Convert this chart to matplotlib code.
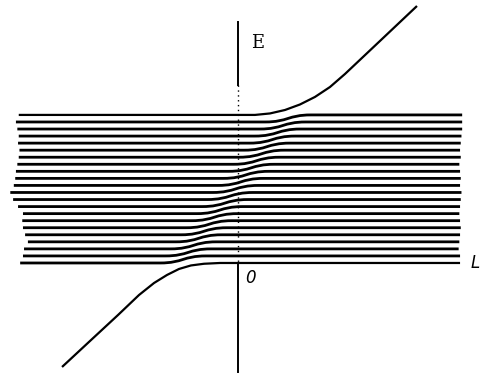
import matplotlib.pyplot as plt
from matplotlib.path import Path
from matplotlib.patches import PathPatch

# Band of levels, in units of level spacing (E = 0 is the lowest level).
levels = list(range(22))

# Where each band line starts on the left (L units), bottom level first.
left_ends = [-30.9, -30.5, -30.35, -29.8, -30.2, -30.5, -30.6, -30.5, -31.2, -31.9,
             -32.3, -31.8, -31.6, -31.5, -31.3, -31.1, -31.0, -31.2, -31.1, -31.3,
             -31.5, -31.1]
right_ends = [31.5, 31.5, 31.3, 31.4, 31.5, 31.6, 31.5, 31.4, 31.5, 31.6,
              31.7, 31.5, 31.6, 31.5, 31.4, 31.6, 31.5, 31.6, 31.7, 31.8,
              31.8, 31.8]

# Centre of the avoided crossing where level k moves up to level k+1.
step_centres = [-7.8, -7.06, -6.31, -5.57, -4.82, -4.08, -3.33, -2.59, -1.84, -1.10,
                -0.35, 0.40, 1.14, 1.89, 2.63, 3.38, 4.12, 4.87, 5.61, 6.36, 7.10]
step_width = 6.5

# Crossing state below the band (left) and above it (right).
lower_L = [-24.96, -20.99, -17.02, -14.04, -11.91, -10.07, -8.37, -6.67, -4.82, -2.55]
lower_E = [-14.75, -11.06, -7.38, -4.54, -2.84, -1.70, -0.85, -0.35, -0.11, 0.0]
upper_L = [2.41, 4.54, 6.67, 8.79, 10.92, 13.05, 15.18, 20.14, 25.39]
upper_E = [21.0, 21.21, 21.70, 22.48, 23.55, 24.96, 26.81, 31.49, 36.45]

axis_top = 34.2
axis_bottom = -15.46

fig = plt.figure(figsize=(4.8, 3.76), dpi=100)
ax = fig.add_axes([0, 0, 1, 1])
ax.set_xlim(-33.76, 34.33)
ax.set_ylim(-16.03, 37.30)
ax.axis("off")

band_lw = 2.0

# band lines, each stepping up one level through the crossing
for k in range(len(levels) - 1):
    y0, y1 = levels[k], levels[k + 1]
    c = step_centres[k]
    verts = [
        (left_ends[k], y0),
        (c - step_width / 2, y0),
        (c, y0), (c, y1), (c + step_width / 2, y1),
        (right_ends[k + 1], y1),
    ]
    codes = [Path.MOVETO, Path.LINETO, Path.CURVE4, Path.CURVE4, Path.CURVE4, Path.LINETO]
    ax.add_patch(PathPatch(Path(verts, codes), fill=False, lw=band_lw,
                           edgecolor="black", capstyle="butt"))

# lower branch: comes in diagonally, then becomes the lowest level
ax.plot(lower_L + [right_ends[0]], lower_E + [levels[0]], color="black",
        lw=1.6, solid_capstyle="butt", solid_joinstyle="round")
# upper branch: top level bending away into the diagonal
ax.plot([left_ends[-1]] + upper_L, [levels[-1]] + upper_E, color="black",
        lw=1.6, solid_capstyle="butt", solid_joinstyle="round")

# E axis
ax.plot([0, 0], [axis_top, 25.3], color="black", lw=1.4)
ax.plot([0, 0], [25.3, 0], color="black", lw=1.0, ls=(0, (1, 2.5)))
ax.plot([0, 0], [0, axis_bottom], color="black", lw=1.4)

ax.text(1.9, 31.2, "E", family="DejaVu Serif", fontsize=13, va="center", ha="left")
ax.text(1.0, -2.2, "0", family="DejaVu Sans", style="italic", fontsize=12,
        va="center", ha="left")
ax.text(33.0, 0.0, "L", family="DejaVu Sans", style="italic", fontsize=12,
        va="center", ha="left")

fig.savefig("out.png", dpi=100)
